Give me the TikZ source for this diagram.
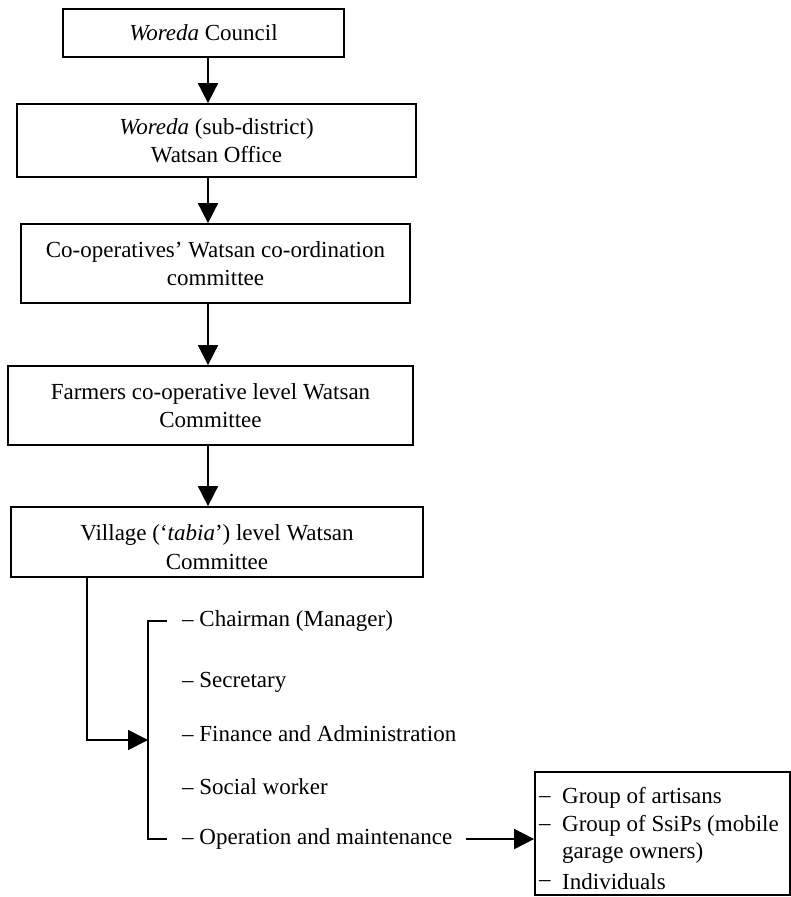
\documentclass[tikz,border=0pt]{standalone}
\usepackage{fontspec}
\setmainfont{Liberation Serif}
\usetikzlibrary{arrows.meta}
\tikzset{
  x=1pt,y=1pt,
  box/.style={draw,line width=1.7pt,rectangle,align=center,inner sep=2pt,
    font=\fontsize{23}{28.5}\selectfont},
  arr/.style={line width=1.7pt,-{Triangle[length=20pt,width=20pt]}},
  ln/.style={line width=1.7pt},
  item/.style={anchor=west,inner sep=0pt,font=\fontsize{23}{28}\selectfont},
}
\begin{document}
\begin{tikzpicture}
\useasboundingbox (0,0) rectangle (791,-897);
\node[box,minimum width=281pt,minimum height=48pt] (b1) at (203.5,-33) {\textit{Woreda} Council};
\node[box,minimum width=399pt,minimum height=73pt] (b2) at (216.5,-140.5) {\textit{Woreda} (sub-district)\\Watsan Office};
\node[box,minimum width=389pt,minimum height=79pt] (b3) at (215.5,-263.5) {Co-operatives’ Watsan co-ordination\\committee};
\node[box,minimum width=405pt,minimum height=79pt] (b4) at (210.5,-405.5) {Farmers co-operative level Watsan\\Committee};
\node[box,minimum width=412pt,minimum height=70pt] (b5) at (217,-542) {\rule{0pt}{26pt}Village (‘\textit{tabia}’) level Watsan\\Committee};
\node[box,minimum width=255pt,minimum height=123pt] (b6) at (662.5,-833.5) {};
\coordinate (ax) at (208,0);
\draw[arr] (b1.south -| ax) -- (b2.north -| ax);
\draw[arr] (b2.south -| ax) -- (b3.north -| ax);
\draw[arr] (b3.south -| ax) -- (b4.north -| ax);
\draw[arr] (b4.south -| ax) -- (b5.north -| ax);
\node[item] (ch) at (182,-621) {– Chairman (Manager)};
\node[item] (se) at (182,-682) {– Secretary};
\node[item] (fi) at (182,-734) {– Finance and Administration};
\node[item] (so) at (182,-787) {– Social worker};
\node[item] (op) at (182,-839) {– Operation and maintenance};
\coordinate (br) at (148,0);
\coordinate (lx) at (87,0);
\coordinate (mid) at (148,-740);
\draw[ln] ([xshift=-15pt]ch.west) -- (ch.west -| br) -- (op.west -| br) -- ([xshift=-15pt]op.west);
\draw[arr] (b5.south -| lx) |- (mid);
\draw[arr] ([xshift=13pt]op.east) -- (op.east -| b6.west);
\node[item] (d1) at (539,-800) {–};
\node[item] (t1) at (562,-798) {Group of artisans};
\node[item] (d2) at (539,-828) {–};
\node[item] (t2) at (562,-826) {Group of SsiPs (mobile};
\node[item] (t3) at (562,-853) {garage owners)};
\node[item] (d4) at (539,-884) {–};
\node[item] (t4) at (562,-882) {Individuals};
\end{tikzpicture}
\end{document}
